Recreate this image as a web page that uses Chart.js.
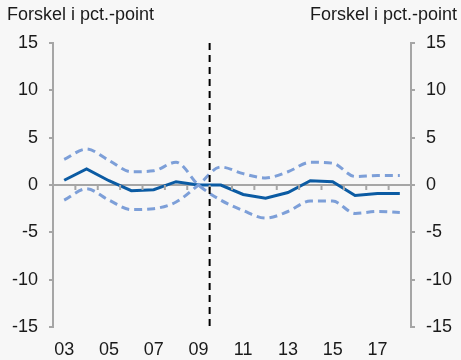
<!DOCTYPE html>
<html>
<head>
<meta charset="utf-8">
<script src="https://cdn.jsdelivr.net/npm/chart.js@4.4.0/dist/chart.umd.min.js"></script>
<style>
  html, body { margin: 0; padding: 0; background: #f7f7f7; }
  #wrap { width: 461px; height: 360px; }
</style>
</head>
<body>
<div id="wrap"><canvas id="chart"></canvas></div>
<script>
const years = ["03", "04", "05", "06", "07", "08", "09", "10", "11", "12", "13", "14", "15", "16", "17", "18"];
const diff = [0.5, 1.7, 0.45, -0.6, -0.5, 0.35, 0.0, 0.0, -1.0, -1.4, -0.8, 0.45, 0.35, -1.1, -0.9, -0.9];
// the two dashed bounds cross in 09
const boundA = [2.7, 3.8, 2.6, 1.4, 1.5, 2.4, 0.0, -1.6, -2.7, -3.5, -2.8, -1.7, -1.7, -3.0, -2.8, -2.9];
const boundB = [-1.6, -0.4, -1.6, -2.6, -2.5, -1.8, 0.0, 1.9, 1.2, 0.75, 1.4, 2.4, 2.3, 0.9, 1.0, 1.0];
const axisTitle = "Forskel i pct.-point";
const breakAfter = "09";

const axisGrey = "#a6a6a6";
const font = { family: "Arial, 'Liberation Sans', sans-serif", size: 18 };

const extras = {
    id: "extras",
    afterDatasetsDraw(chart) {
        const ctx = chart.ctx;
        const x = chart.scales.x;
        const y = chart.scales.y;
        const area = chart.chartArea;
        const y0 = y.getPixelForValue(0);
        ctx.save();
        // x tick marks on the zero line, between the years
        ctx.strokeStyle = axisGrey;
        ctx.lineWidth = 2;
        for (let i = 1; i < years.length; i++) {
            const px = (x.getPixelForValue(i - 1) + x.getPixelForValue(i)) / 2;
            ctx.beginPath();
            ctx.moveTo(px, y0);
            ctx.lineTo(px, y0 + 5);
            ctx.stroke();
        }
        // vertical break line
        const i = years.indexOf(breakAfter);
        const bx = (x.getPixelForValue(i) + x.getPixelForValue(i + 1)) / 2;
        ctx.strokeStyle = "#000";
        ctx.lineWidth = 2;
        ctx.setLineDash([7, 5]);
        ctx.beginPath();
        ctx.moveTo(bx, area.top);
        ctx.lineTo(bx, area.bottom);
        ctx.stroke();
        ctx.restore();
    },
    afterDraw(chart) {
        const ctx = chart.ctx;
        ctx.save();
        ctx.font = "18px " + font.family;
        ctx.fillStyle = "#1a1a1a";
        ctx.textBaseline = "alphabetic";
        ctx.textAlign = "left";
        ctx.fillText(axisTitle, 7, 20);
        ctx.textAlign = "right";
        ctx.fillText(axisTitle, 457, 20);
        ctx.restore();
    }
};

const yTicks = {
    stepSize: 5,
    padding: 11,
    color: "#1a1a1a",
    font: font
};

new Chart(document.getElementById("chart"), {
    type: "line",
    data: {
        labels: years,
        datasets: [
            {
                data: boundA,
                borderColor: "#7d9fd8",
                borderWidth: 3,
                borderDash: [8, 5],
                pointRadius: 0,
                cubicInterpolationMode: "monotone"
            },
            {
                data: boundB,
                borderColor: "#7d9fd8",
                borderWidth: 3,
                borderDash: [8, 5],
                pointRadius: 0,
                cubicInterpolationMode: "monotone"
            },
            {
                data: diff,
                borderColor: "#0b5ba3",
                borderWidth: 3,
                pointRadius: 0,
                tension: 0
            }
        ]
    },
    options: {
        responsive: true,
        maintainAspectRatio: false,
        animation: false,
        layout: { padding: { top: 43, left: 0, right: 0, bottom: 0 } },
        plugins: {
            legend: { display: false },
            tooltip: { enabled: false }
        },
        scales: {
            x: {
                offset: true,
                grid: { display: false, drawTicks: false },
                border: { display: false },
                ticks: {
                    autoSkip: false,
                    maxRotation: 0,
                    padding: 12,
                    color: "#1a1a1a",
                    font: font,
                    callback: (v, i) => (i % 2 === 0 ? years[i] : "")
                },
                afterFit: (s) => { s.height = 33; }
            },
            y: {
                position: "left",
                min: -15,
                max: 15,
                ticks: yTicks,
                border: { display: true, color: axisGrey, width: 2 },
                grid: {
                    drawTicks: true,
                    tickLength: 4,
                    tickColor: axisGrey,
                    lineWidth: 2,
                    color: (c) => (c.tick && c.tick.value === 0 ? axisGrey : "transparent")
                },
                afterFit: (s) => { s.width = 53; }
            },
            y2: {
                position: "right",
                min: -15,
                max: 15,
                ticks: yTicks,
                border: { display: true, color: axisGrey, width: 2 },
                grid: {
                    drawOnChartArea: false,
                    drawTicks: true,
                    tickLength: 4,
                    tickColor: axisGrey,
                    lineWidth: 2
                },
                afterFit: (s) => { s.width = 50; }
            }
        }
    },
    plugins: [extras]
});
</script>
</body>
</html>
